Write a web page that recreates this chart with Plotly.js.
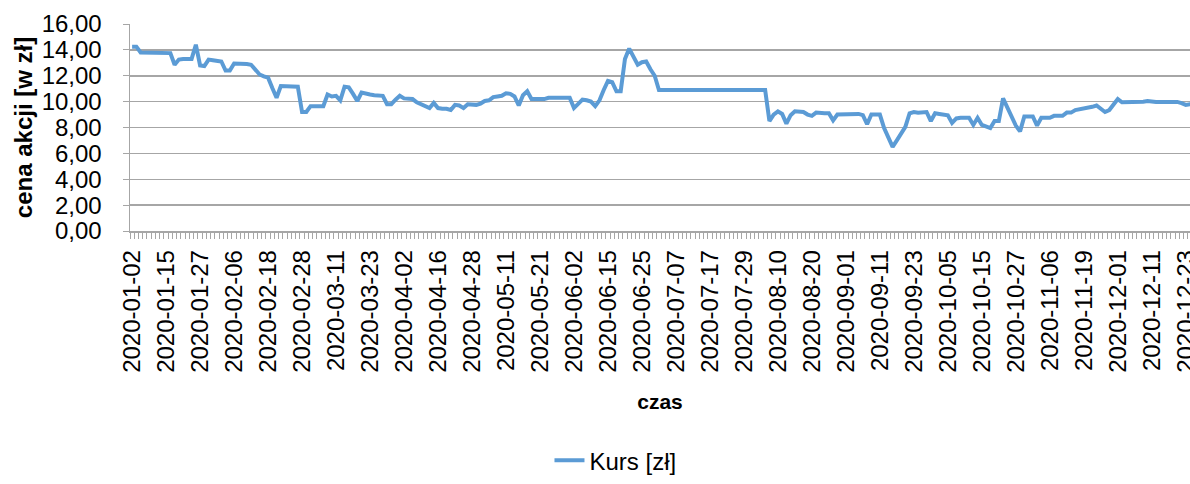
<!DOCTYPE html>
<html>
<head>
<meta charset="utf-8">
<script src="https://cdn.plot.ly/plotly-3.0.1.min.js"></script>
<style>html,body{margin:0;padding:0;background:#fff;}#chart{width:1190px;height:484px;}</style>
</head>
<body>
<div id="chart"></div>
<script>
// Trading days of 2020 (day numbers per month)
var daysJan = [2,3,7,8,9,10,13,14,15,16,17,20,21,22,23,24,27,28,29,30,31];
var daysFeb = [3,4,5,6,7,10,11,12,13,14,17,18,19,20,21,24,25,26,27,28];
var daysMar = [2,3,4,5,6,9,10,11,12,13,16,17,18,19,20,23,24,25,26,27,30,31];
var daysApr = [1,2,3,6,7,8,9,14,15,16,17,20,21,22,23,24,27,28,29,30];
var daysMay = [4,5,6,7,8,11,12,13,14,15,18,19,20,21,22,25,26,27,28,29];
var daysJun = [1,2,3,4,5,8,9,10,12,15,16,17,18,19,22,23,24,25,26,29,30];
var daysJul = [1,2,3,6,7,8,9,10,13,14,15,16,17,20,21,22,23,24,27,28,29,30,31];
var daysAug = [3,4,5,6,7,10,11,12,13,14,17,18,19,20,21,24,25,26,27,28,31];
var daysSep = [1,2,3,4,7,8,9,10,11,14,15,16,17,18,21,22,23,24,25,28,29,30];
var daysOct = [1,2,5,6,7,8,9,12,13,14,15,16,19,20,21,22,23,26,27,28,29,30];
var daysNov = [2,3,4,5,6,9,10,12,13,16,17,18,19,20,23,24,25,26,27,30];
var daysDec = [1,2,3,4,7,8,9,10,11,14,15,16,17,18,21,22,23,28,29,30];

// Share price [zł], one value per trading day
var kursJan = [14.25,14.25,13.8,13.8,13.8,13.8,13.75,13.75,13.75,13.75,12.85,13.25,13.3,13.3,13.3,14.4,12.8,12.75,13.25,13.2,13.15];
var kursFeb = [13.1,12.4,12.4,12.95,12.95,12.9,12.9,12.85,12.45,12.1,11.95,11.85,11.05,10.3,11.2,11.2,11.2,11.15,11.15,9.2];
var kursMar = [9.2,9.65,9.65,9.65,9.65,10.55,10.4,10.45,10.1,11.15,11.1,10.6,10.05,10.7,10.6,10.55,10.5,10.5,10.45,9.8,9.8,10.15];
var kursApr = [10.45,10.25,10.2,10.2,9.95,9.8,9.65,9.5,9.9,9.5,9.45,9.45,9.35,9.75,9.7,9.5,9.8,9.75,9.75,9.85];
var kursMay = [10.05,10.1,10.35,10.4,10.45,10.65,10.6,10.4,9.7,10.5,10.8,10.2,10.2,10.2,10.2,10.3,10.3,10.3,10.3,10.25];
var kursJun = [10.3,9.5,9.85,10.15,10.1,10.0,9.65,10.1,10.9,11.6,11.5,10.8,10.8,13.3,14.1,13.5,12.85,13.05,13.1,12.5,12.0];
var kursJul = [10.9,10.9,10.9,10.9,10.9,10.9,10.9,10.9,10.9,10.9,10.9,10.9,10.9,10.9,10.9,10.9,10.9,10.9,10.9,10.9,10.9,10.9,10.9];
var kursAug = [10.9,10.9,10.9,8.5,9.0,9.25,9.05,8.3,8.95,9.25,9.25,9.2,9.0,8.9,9.15,9.1,9.1,9.1,8.55,9.0,9.0];
var kursSep = [9.0,9.0,9.05,9.05,8.95,8.25,9.0,9.0,9.0,7.95,7.15,6.5,7.0,7.5,8.05,9.1,9.2,9.15,9.2,9.2,8.5,9.1];
var kursOct = [9.05,9.0,8.95,8.35,8.7,8.75,8.75,8.75,8.2,8.75,8.2,8.1,7.95,8.5,8.5,10.25,9.6,8.9,8.15,7.7,8.85,8.85];
var kursNov = [8.85,8.15,8.75,8.75,8.75,8.9,8.9,8.9,9.15,9.15,9.35,9.4,9.5,9.55,9.6,9.7,9.4,9.2,9.35,9.8];
var kursDec = [10.2,9.95,9.95,9.95,9.95,10.0,10.0,10.05,10.0,9.98,9.98,9.98,9.98,9.98,9.98,9.88,9.75,9.8,9.8,9.8];

var monthDays = [daysJan,daysFeb,daysMar,daysApr,daysMay,daysJun,daysJul,daysAug,daysSep,daysOct,daysNov,daysDec];
var monthKurs = [kursJan,kursFeb,kursMar,kursApr,kursMay,kursJun,kursJul,kursAug,kursSep,kursOct,kursNov,kursDec];

function pad(n){return (n<10?'0':'')+n;}
var dates = [], kurs = [];
monthDays.forEach(function(ds, m){
  ds.forEach(function(d, k){
    dates.push('2020-' + pad(m+1) + '-' + pad(d));
    kurs.push(monthKurs[m][k]);
  });
});
var tickText = dates.map(function(d, i){ return (i % 8 === 0) ? d : ''; });

var FONT = 'Liberation Sans, Arial, sans-serif';
var trace = {
  x: dates, y: kurs, type: 'scatter', mode: 'lines', name: 'Kurs [zł]',
  line: {color: '#5b9bd5', width: 4}, showlegend: true
};
var layout = {
  width: 1190, height: 484,
  margin: {l: 130, r: 0, t: 24, b: 248, pad: 0},
  paper_bgcolor: '#ffffff', plot_bgcolor: '#ffffff',
  font: {family: FONT, color: '#000000', size: 24},
  separators: ', ',
  xaxis: {
    type: 'category', range: [-0.5, 249.0], autorange: false,
    tickmode: 'array', tickvals: dates, ticktext: tickText, tickangle: -90,
    tickson: 'boundaries', ticks: 'outside', ticklen: 6, tickwidth: 1, tickcolor: '#a6a6a6',
    ticklabelstandoff: 8,
    showgrid: false, showline: true, linecolor: '#a6a6a6', linewidth: 1.5,
    zeroline: false, tickfont: {family: FONT, size: 24, color: '#000000'},
    title: {text: 'czas', font: {family: FONT, size: 21, color: '#000000', weight: 'bold'}, standoff: 22}
  },
  yaxis: {
    range: [0, 16], autorange: false, tickmode: 'linear', tick0: 0, dtick: 2,
    tickformat: '.2f', ticks: 'outside', ticklen: 6, tickwidth: 1, tickcolor: '#a6a6a6',
    ticklabelstandoff: 16,
    showgrid: true, gridcolor: '#a6a6a6', gridwidth: 1.5,
    showline: true, linecolor: '#a6a6a6', linewidth: 1.5, zeroline: false,
    tickfont: {family: FONT, size: 24, color: '#000000'},
    title: {text: 'cena akcji [w zł]', font: {family: FONT, size: 24, color: '#000000', weight: 'bold'}, standoff: 2}
  },
  legend: {
    orientation: 'h', x: 0.458, xanchor: 'center', y: -1.11, yanchor: 'middle',
    font: {family: FONT, size: 24, color: '#000000'}, bgcolor: 'rgba(0,0,0,0)'
  }
};
Plotly.newPlot('chart', [trace], layout, {staticPlot: true, displayModeBar: false});
</script>
</body>
</html>
